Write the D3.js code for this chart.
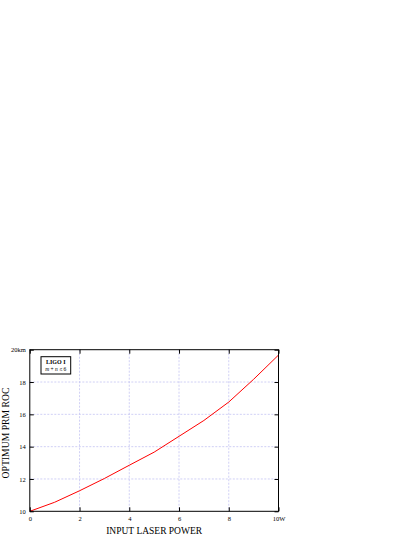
<!DOCTYPE html>
<html><head><meta charset="utf-8">
<script src="https://cdn.jsdelivr.net/npm/d3@7"></script>
<style>html,body{margin:0;padding:0;background:#fff;}svg{display:block;}</style>
</head><body>
<script>
const powers = [0,1,2,3,4,5,6,7,8,9,10];
const roc = [10.0,10.56,11.27,12.03,12.85,13.66,14.64,15.62,16.76,18.17,19.67];
const xTicks = [0,2,4,6,8,10];
const xTickLabels = ["0","2","4","6","8","10W"];
const yTicks = [10,12,14,16,18,20];
const yTickLabels = ["10","12","14","16","18","20km"];

const W=415,H=537;
const svg=d3.select("body").append("svg").attr("width",W).attr("height",H);
const L=29.8,R=278.5,T=349.7,B=511.3;
const x=d3.scaleLinear().domain([0,10]).range([L,R]);
const y=d3.scaleLinear().domain([10,20]).range([B,T]);
const font="'Liberation Serif','Times New Roman',serif";

// grid
const g=svg.append("g");
g.selectAll(".vg").data(xTicks.slice(1,-1)).enter().append("line")
 .attr("x1",d=>x(d)).attr("x2",d=>x(d)).attr("y1",T).attr("y2",B)
 .attr("stroke","#c4c4f2").attr("stroke-width",0.8).attr("stroke-dasharray","2,1.5");
g.selectAll(".hg").data(yTicks.slice(1,-1)).enter().append("line")
 .attr("y1",d=>y(d)).attr("y2",d=>y(d)).attr("x1",L).attr("x2",R)
 .attr("stroke","#c4c4f2").attr("stroke-width",0.8).attr("stroke-dasharray","2,1.5");

// curve
svg.append("path").datum(powers.map((p,i)=>[p,roc[i]]))
 .attr("d",d3.line().x(d=>x(d[0])).y(d=>y(d[1])))
 .attr("fill","none").attr("stroke","#ff0000").attr("stroke-width",1);

// frame
svg.append("rect").attr("x",L).attr("y",T).attr("width",R-L).attr("height",B-T)
 .attr("fill","none").attr("stroke","#000").attr("stroke-width",1);

// axes with inward ticks
const tk=4;
const xb=svg.append("g").attr("transform",`translate(0,${B})`)
 .call(d3.axisBottom(x).tickValues(xTicks).tickSize(-tk).tickPadding(5).tickFormat((d,i)=>xTickLabels[i]));
const xt=svg.append("g").attr("transform",`translate(0,${T})`)
 .call(d3.axisTop(x).tickValues(xTicks).tickSize(-tk).tickFormat(""));
const yl=svg.append("g").attr("transform",`translate(${L},0)`)
 .call(d3.axisLeft(y).tickValues(yTicks).tickSize(-tk).tickPadding(4).tickFormat((d,i)=>yTickLabels[i]));
const yr=svg.append("g").attr("transform",`translate(${R},0)`)
 .call(d3.axisRight(y).tickValues(yTicks).tickSize(-tk).tickFormat(""));
[xb,xt,yl,yr].forEach(a=>{a.select(".domain").remove();
 a.selectAll("line").attr("stroke","#000").attr("stroke-width",1);
 a.selectAll("text").attr("font-family",font).attr("font-size",6.5).attr("fill","#000");});
yl.selectAll("text").attr("dy","0.35em");

// axis titles
svg.append("text").attr("x",(L+R)/2).attr("y",534).attr("text-anchor","middle")
 .attr("font-family",font).attr("font-size",9.5).text("INPUT LASER POWER");
svg.append("text").attr("transform",`translate(8.5,433) rotate(-90)`).attr("text-anchor","middle")
 .attr("font-family",font).attr("font-size",9.7).text("OPTIMUM PRM ROC");

// legend box
svg.append("rect").attr("x",41).attr("y",356.7).attr("width",29.7).attr("height",17.3)
 .attr("fill","#fff").attr("stroke","#000").attr("stroke-width",1);
svg.append("text").attr("x",55.8).attr("y",363.8).attr("text-anchor","middle")
 .attr("font-family",font).attr("font-size",6).attr("font-weight","bold").text("LIGO I");
const t2=svg.append("text").attr("x",55.8).attr("y",370.6).attr("text-anchor","middle")
 .attr("font-family",font).attr("font-size",5.5);
t2.append("tspan").attr("font-style","italic").text("m");
t2.append("tspan").text(" + ");
t2.append("tspan").attr("font-style","italic").text("n");
t2.append("tspan").text(" ≤ 6");
</script>
</body></html>
